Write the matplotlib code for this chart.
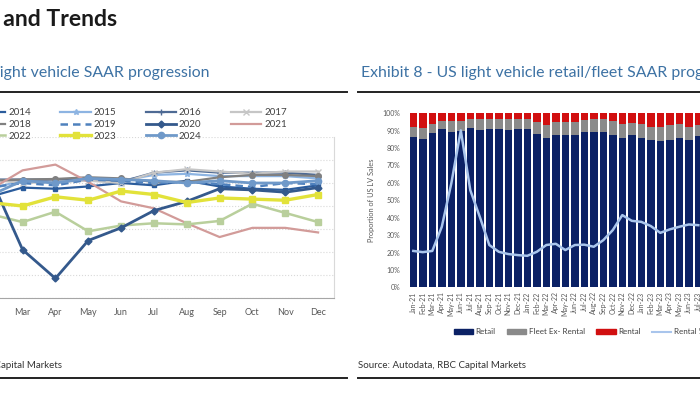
import matplotlib.pyplot as plt
from matplotlib.lines import Line2D
from matplotlib.patches import Patch
import numpy as np

plt.rcParams['font.family'] = ['Lato', 'DejaVu Sans']

W, H = 700, 394

# Exhibit 7 - monthly SAAR (millions) by year
months = ['Jan', 'Feb', 'Mar', 'Apr', 'May', 'Jun', 'Jul', 'Aug', 'Sep', 'Oct', 'Nov', 'Dec']
saar_2014 = [15.3, 15.8, 16.6, 16.5, 16.7, 17.0, 16.8, 17.2, 16.7, 16.5, 16.4, 16.8]
saar_2015 = [16.8, 16.5, 17.2, 17.1, 17.4, 17.2, 17.7, 17.8, 17.6, 17.6, 17.6, 17.4]
saar_2016 = [17.4, 17.3, 17.3, 17.3, 17.3, 17.1, 17.9, 18.1, 17.9, 17.9, 17.9, 17.7]
saar_2017 = [17.5, 17.3, 17.0, 17.1, 17.2, 17.0, 17.9, 18.2, 18.0, 17.8, 18.0, 18.0]
saar_2018 = [17.1, 17.2, 17.3, 17.35, 17.5, 17.4, 17.1, 17.1, 17.5, 17.7, 17.7, 17.6]
saar_2019 = [16.7, 16.6, 17.0, 16.8, 17.3, 17.2, 17.0, 17.1, 16.9, 16.65, 17.0, 16.9]
saar_2020 = [17.0, 17.6, 11.2, 8.7, 12.0, 13.1, 14.6, 15.4, 16.5, 16.4, 16.2, 16.6]
saar_2021 = [16.6, 16.4, 18.1, 18.6, 17.1, 15.4, 14.8, 13.5, 12.3, 13.1, 13.1, 12.7]
saar_2022 = [15.0, 14.3, 13.6, 14.5, 12.8, 13.3, 13.5, 13.4, 13.7, 15.2, 14.4, 13.6]
saar_2023 = [15.7, 15.3, 15.0, 15.8, 15.5, 16.3, 16.0, 15.3, 15.7, 15.6, 15.5, 16.0]
saar_2024 = [15.0, 15.9, 17.2, 17.0, 17.4, 17.3, 17.2, 17.0, 17.2, 17.0, 17.0, 17.2]

# Exhibit 8 - retail / fleet mix (% of US LV sales)
bar_months = ['Jan-21', 'Feb-21', 'Mar-21', 'Apr-21', 'May-21', 'Jun-21', 'Jul-21', 'Aug-21',
              'Sep-21', 'Oct-21', 'Nov-21', 'Dec-21', 'Jan-22', 'Feb-22', 'Mar-22', 'Apr-22',
              'May-22', 'Jun-22', 'Jul-22', 'Aug-22', 'Sep-22', 'Oct-22', 'Nov-22', 'Dec-22',
              'Jan-23', 'Feb-23', 'Mar-23', 'Apr-23', 'May-23', 'Jun-23', 'Jul-23']
retail = [86.4, 85.5, 88.7, 90.8, 89.3, 89.7, 91.6, 90.2, 90.8, 90.8, 90.2, 90.8, 90.8, 88.3, 86.0,
          87.8, 87.8, 87.4, 89.3, 89.3, 89.3, 87.8, 86.0, 87.4, 85.8, 84.5, 84.1, 84.5, 85.8, 84.9, 87.0]
fleet_ex_rental = [5.8, 6.1, 5.4, 4.6, 6.1, 5.7, 4.9, 6.3, 5.7, 6.2, 6.8, 6.2, 5.7, 6.7, 7.5,
                   7.2, 7.2, 7.6, 7.1, 7.7, 7.7, 7.6, 8.1, 7.2, 8.3, 7.7, 8.1, 9.0, 8.3, 7.3, 6.5]
rental = [7.8, 8.4, 5.9, 4.6, 4.6, 4.6, 3.5, 3.5, 3.5, 3.0, 3.0, 3.0, 3.5, 5.0, 6.5,
          5.0, 5.0, 5.0, 3.6, 3.0, 3.0, 4.6, 5.9, 5.4, 5.9, 7.8, 7.8, 6.5, 5.9, 7.8, 6.5]
rental_share = [20.9, 20.2, 20.9, 34.8, 59.7, 90.2, 55.8, 40.5, 24.3, 20.4, 19.1, 18.5, 18.1, 20.4, 24.3,
                25.0, 21.4, 24.3, 24.5, 23.3, 27.1, 32.9, 41.5, 38.2, 37.6, 35.2, 31.3, 33.3, 34.8, 36.1, 35.7]

series = [
    ('2014', saar_2014, dict(color='#2b5c9c', lw=1.6, marker='s', ms=3)),
    ('2015', saar_2015, dict(color='#8db4e2', lw=1.6, marker='*', ms=4)),
    ('2016', saar_2016, dict(color='#4e6a94', lw=1.6, marker='+', ms=4)),
    ('2017', saar_2017, dict(color='#c6c6c6', lw=1.6, marker='x', ms=4)),
    ('2018', saar_2018, dict(color='#808080', lw=1.6, marker='o', ms=4)),
    ('2019', saar_2019, dict(color='#4f81bd', lw=1.8, ls=(0, (3, 2)))),
    ('2020', saar_2020, dict(color='#34598c', lw=2.0, marker='D', ms=3.5)),
    ('2021', saar_2021, dict(color='#d29b99', lw=1.6)),
    ('2022', saar_2022, dict(color='#b9cf9c', lw=1.8, marker='s', ms=4.5)),
    ('2023', saar_2023, dict(color='#e2e23a', lw=2.4, marker='s', ms=5)),
    ('2024', saar_2024, dict(color='#6f99c9', lw=2.0, marker='o', ms=4.5)),
]


def fx(px):
    return px / W


def fy(py):
    return 1 - py / H


fig = plt.figure(figsize=(7, 3.94), dpi=100)

# ---- left chart (cut off at the left edge of the page) ----
ax = fig.add_axes([fx(-59.5), fy(298), 394 / W, (298 - 137) / H])
handles = {}
for name, vals, style in series:
    z = 4 if name in ('2020', '2023') else 3
    handles[name], = ax.plot(range(len(months)), vals, label=name, zorder=z, **style)

ax.set_xlim(-0.5, 11.5)
ax.set_ylim(7, 21)
ax.set_yticks(np.arange(7, 22, 2))
ax.set_yticklabels([])
ax.set_xticks(range(len(months)))
ax.set_xticklabels(months, fontsize=6.5, color='#595959')
ax.tick_params(length=0, pad=7)
ax.grid(axis='y', color='#d9d9d9', ls=':', lw=0.8)
for s in ['top', 'left']:
    ax.spines[s].set_visible(False)
ax.spines['right'].set_color('#d9d9d9')
ax.spines['bottom'].set_color('#a6a6a6')

order = ['2014', '2018', '2022', '2015', '2019', '2023', '2016', '2020', '2024', '2017', '2021']
fig.legend([handles[k] for k in order], order, ncol=4, loc='upper left',
           bbox_to_anchor=(fx(-25), fy(108)), frameon=False, fontsize=7,
           handlelength=3.1, handletextpad=0.3, columnspacing=3.05, labelspacing=0.3,
           borderpad=0, borderaxespad=0, labelcolor='#404040')

# ---- right chart (cut off at the right edge) ----
ax2 = fig.add_axes([fx(408.55), fy(287.3), 9.5 * 33 / W, (287.3 - 113.3) / H])
x = np.arange(len(bar_months))
navy, grey, red = '#0b2165', '#8a8a8a', '#d10f10'
retail_a = np.array(retail)
fleet_a = np.array(fleet_ex_rental)
ax2.bar(x, retail_a, width=0.8, color=navy)
ax2.bar(x, fleet_a, width=0.8, bottom=retail_a, color=grey)
ax2.bar(x, rental, width=0.8, bottom=retail_a + fleet_a, color=red)
ax2.plot(x, rental_share, color='#a9c5ec', lw=1.8)
ax2.set_xlim(-0.5, 32.5)
ax2.set_ylim(0, 100)
ax2.set_yticks(range(0, 101, 10))
ax2.set_yticklabels([f'{v}%' for v in range(0, 101, 10)], fontsize=5, color='#595959')
ax2.set_xticks(x)
ax2.set_xticklabels(bar_months, rotation=90, fontsize=5, color='#595959')
ax2.tick_params(axis='y', length=0, pad=6)
ax2.tick_params(axis='x', length=0, pad=3)
for s in ax2.spines.values():
    s.set_visible(False)
ax2.set_ylabel('Proportion of US LV Sales', fontsize=5.3, color='#595959')
ax2.yaxis.set_label_coords(-0.107, 0.5)

fig.legend([Patch(color=navy), Patch(color=grey), Patch(color=red),
            Line2D([], [], color='#a9c5ec', lw=1.5)],
           ['Retail', 'Fleet Ex- Rental', 'Rental', 'Rental % of Fleet'],
           ncol=4, loc='center left', bbox_to_anchor=(fx(454), fy(331.7)), frameon=False,
           fontsize=5.8, handlelength=2.4, handletextpad=0.3, handleheight=0.5,
           columnspacing=1.4, borderpad=0, borderaxespad=0, labelcolor='#404040')

# ---- page text and rules ----
blue_title = '#3d72a4'
fig.text(fx(117), fy(20), 'Sales and Trends', ha='right', va='center',
         fontsize=16.6, fontweight='bold', color='#1a1a1a')
fig.text(fx(210), fy(73), 'Exhibit 7 - US light vehicle SAAR progression', ha='right',
         va='center', fontsize=11.4, color=blue_title)
fig.text(fx(361), fy(73), 'Exhibit 8 - US light vehicle retail/fleet SAAR progression',
         ha='left', va='center', fontsize=11.4, color=blue_title)
fig.text(fx(62), fy(365), 'Source: Autodata, RBC Capital Markets', ha='right', va='center',
         fontsize=7, color='#333333')
fig.text(fx(358), fy(365), 'Source: Autodata, RBC Capital Markets', ha='left', va='center',
         fontsize=7, color='#333333')

for x0, x1, y in [(0, 347, 92), (0, 347, 378), (358, 700, 92), (358, 700, 378)]:
    fig.add_artist(Line2D([fx(x0), fx(x1)], [fy(y), fy(y)], transform=fig.transFigure,
                          color='#222222', lw=1.4))

fig.savefig('out.png', dpi=100, facecolor='white')
plt.close(fig)
